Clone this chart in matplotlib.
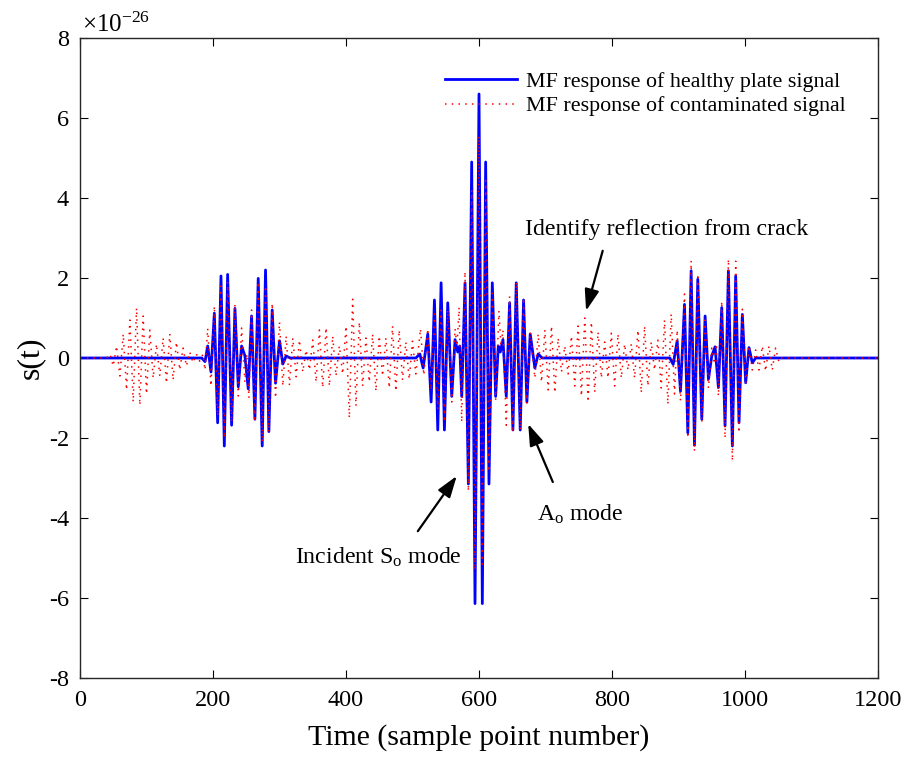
import matplotlib
matplotlib.use("Agg")
import matplotlib.pyplot as plt

# ---- data (values in units of 1e-26), peaks/troughs
blue_x = [0, 183, 188, 192, 197, 202, 207, 212, 217, 222, 228, 233, 238, 243, 248,
          253, 258, 263, 268, 274, 279, 284, 289, 294, 300, 305, 310, 316,
          505, 511, 516, 523, 528, 533, 538, 543, 548, 553, 559, 564, 568, 571, 574,
          579, 584, 589, 594, 600, 605, 610, 615, 620, 625, 629, 632, 636, 641, 646,
          651, 656, 662, 667, 672, 677, 684, 689, 695,
          887, 892, 898, 903, 909, 914, 919, 924, 929, 935, 940, 945, 950, 955, 960,
          965, 970, 975, 981, 986, 991, 996, 1001, 1006, 1011, 1016, 1200]
blue_y = [0, 0, -0.09, 0.3, -0.35, 1.12, -1.62, 2.05, -2.2, 2.09, -1.68, 1.24, -0.72, 0.3, 0.05,
          -0.77, 1.05, -1.53, 1.99, -2.2, 2.2, -1.84, 1.2, -0.63, 0.43, -0.15, 0.05, 0,
          0, 0.1, -0.25, 0.6, -1.1, 1.45, -1.8, 1.88, -1.8, 1.38, -0.96, 0.46, 0.15, 0.3, -0.96,
          1.88, -3.15, 4.9, -6.14, 6.6, -6.14, 4.9, -3.15, 1.88, -0.96, 0.3, 0.15, 0.46, -0.96, 1.38,
          -1.8, 1.88, -1.8, 1.45, -1.1, 0.6, -0.25, 0.1, 0,
          0, -0.16, 0.43, -0.83, 1.34, -1.87, 2.18, -2.18, 1.97, -1.53, 1.05, -0.53, 0.05, 0.28, -0.74,
          1.26, -1.7, 2.18, -2.2, 2.05, -1.62, 1.09, -0.62, 0.26, -0.12, 0, 0]

red_x = [0, 40, 45, 50, 55, 60, 65, 70, 75, 80, 85, 90, 95, 100, 105, 110, 115, 120,
         125, 130, 135, 140, 145, 150, 155, 160, 165, 170, 175, 180,
         185, 188, 192, 197, 202, 207, 212, 217, 222, 228, 233, 238, 243, 248, 251, 254,
         258, 263, 268, 274, 279, 284, 289, 294, 300, 305, 310, 315,
         320, 325, 330, 335, 340, 345, 350, 355, 360, 365, 370, 375, 380, 385, 390, 395,
         400, 405, 410, 415, 420, 425, 430, 435, 440, 445, 450, 455, 460, 465, 470, 475,
         480, 485, 490, 495, 500, 505,
         512, 517, 523, 528, 533, 538, 543, 548, 553, 559, 564, 567, 570, 574, 579, 584,
         589, 594, 600, 605, 610, 615, 620, 625, 630, 633, 636, 641, 646, 651, 656, 662,
         667, 672, 677, 684, 689, 694,
         699, 704, 709, 714, 719, 724, 729, 734, 739, 744, 749, 754, 759, 764, 769, 774,
         779, 784, 789, 794, 799, 804, 809, 814, 819, 824, 829, 834, 839, 844, 849, 854,
         859, 864, 869, 874, 879, 884, 889, 894, 898,
         903, 909, 914, 919, 924, 929, 935, 940, 945, 950, 954, 957, 960, 965, 970, 975,
         981, 986, 991, 996, 1001, 1006, 1011, 1016, 1021, 1026, 1031, 1036, 1041, 1046,
         1051, 1055, 1200]
red_y = [0, 0, 0.1, -0.2, 0.3, -0.45, 0.6, -0.8, 0.95, -1.1, 1.25, -1.18, 1.05, -0.9, 0.7, -0.5, 0.35, -0.45,
         0.5, -0.63, 0.6, -0.55, 0.4, -0.3, 0.25, -0.2, 0.15, -0.12, 0.1, -0.08,
         0.1, -0.3, 0.74, -0.7, 1.3, -1.45, 1.8, -2.0, 1.9, -1.6, 1.35, -0.95, 0.75, -0.6, 0.1, -1.0,
         1.2, -1.6, 1.9, -2.1, 1.8, -1.85, 1.37, -1.0, 0.9, -0.7, 0.55, -0.68,
         0.5, -0.47, 0.45, -0.35, 0.2, -0.3, 0.45, -0.6, 0.7, -0.74, 0.76, -0.7, 0.55, -0.45, 0.3, -0.4,
         0.8, -1.5, 1.47, -1.2, 0.9, -0.7, 0.5, -0.6, 0.6, -0.83, 0.55, -0.45, 0.5, -0.75, 0.8, -0.83,
         0.7, -0.55, 0.4, -0.53, 0.42, -0.4,
         0.73, -0.43, 0.73, -0.8, 1.1, -1.28, 1.2, -1.6, 1.2, -1.1, 0.73, 0.3, 1.27, -1.6, 2.16, -3.33,
         4.2, -5.3, 5.55, -5.16, 4.44, -2.84, 1.62, -1.05, 1.18, 0.3, 0.7, -1.68, 1.54, -1.86, 1.9, -1.8,
         1.5, -1.14, 0.65, -0.5, 0.6, -0.6,
         0.7, -0.8, 0.8, -0.87, 0.5, -0.35, 0.3, -0.4, 0.55, -0.7, 0.8, -0.95, 1.0, -1.1, 0.9, -0.85,
         0.65, -0.5, 0.4, -0.5, 0.62, -0.7, 0.6, -0.5, 0.35, -0.3, 0.35, -0.5, 0.7, -0.87, 0.8, -0.7,
         0.4, -0.3, 0.45, -0.75, 0.95, -1.16, 1.1, -0.9, 0.7,
         -1.07, 1.6, -2.0, 2.43, -2.33, 2.1, -1.62, 0.95, -0.75, 0.25, -0.15, 0.35, -0.95, 1.42, -2.0, 2.47,
         -2.57, 2.42, -1.87, 1.22, -0.62, 0.3, -0.3, 0.2, -0.3, 0.3, -0.33, 0.3, -0.3, 0.25,
         -0.1, 0, 0]

x_ticks = [0, 200, 400, 600, 800, 1000, 1200]
y_ticks = [-8, -6, -4, -2, 0, 2, 4, 6, 8]

# ---- style
plt.rcParams['font.family'] = 'Liberation Serif'
plt.rcParams['mathtext.fontset'] = 'custom'
plt.rcParams['mathtext.rm'] = 'Liberation Serif'
plt.rcParams['mathtext.it'] = 'Liberation Serif:italic'
plt.rcParams['axes.unicode_minus'] = False

fig = plt.figure(figsize=(9.06, 7.58), dpi=100)
ax = fig.add_axes([80 / 906, 80 / 758, 798 / 906, 640 / 758])

ax.plot(blue_x, blue_y, color='#0000ff', lw=2.0,
        label='MF response of healthy plate signal')
ax.plot(red_x, red_y, color='#ff0000', lw=1.1, ls=(0, (1, 3.4)),
        label='MF response of contaminated signal')

ax.set_xlim(0, 1200)
ax.set_ylim(-8, 8)
ax.set_xticks(x_ticks)
ax.set_yticks(y_ticks)
ax.tick_params(direction='in', length=6, width=0.8, top=True, right=True,
               labelsize=17.5, pad=9)
ax.tick_params(axis='y', pad=8)
for s in ax.spines.values():
    s.set_linewidth(1.0)
    s.set_color('#262626')

ax.set_xlabel('Time (sample point number)', fontsize=21.5, labelpad=9)
ax.set_ylabel('s(t)', fontsize=23, labelpad=3)
ax.text(0.002, 1.009, r'$\times\mathregular{10^{-26}}$', transform=ax.transAxes,
        fontsize=18, va='baseline', ha='left')

ax.legend(loc='upper left', bbox_to_anchor=(0.457, 0.948), frameon=False,
          fontsize=15.8, handlelength=3.3, handletextpad=0.4, labelspacing=0.2,
          borderpad=0, borderaxespad=0)

# annotations
arrow = dict(arrowstyle='-|>,head_length=0.65,head_width=0.22', color='k',
             lw=1.6, shrinkA=0, shrinkB=0, mutation_scale=20)
ax.annotate('', xy=(761, 1.18), xytext=(786, 2.68), arrowprops=arrow)
ax.annotate('', xy=(566.5, -2.95), xytext=(508, -4.33), arrowprops=arrow)
ax.annotate('', xy=(674, -1.65), xytext=(711, -3.1), arrowprops=arrow)
ax.text(669, 3.2, 'Identify reflection from crack', fontsize=17.2, va='center')
ax.text(323, -5.15, r'Incident S$_{\mathrm{o}}$ mode', fontsize=17.2, va='baseline')
ax.text(687, -4.08, r'A$_{\mathrm{o}}$ mode', fontsize=17.2, va='baseline')

plt.savefig('out.png', dpi=100)
